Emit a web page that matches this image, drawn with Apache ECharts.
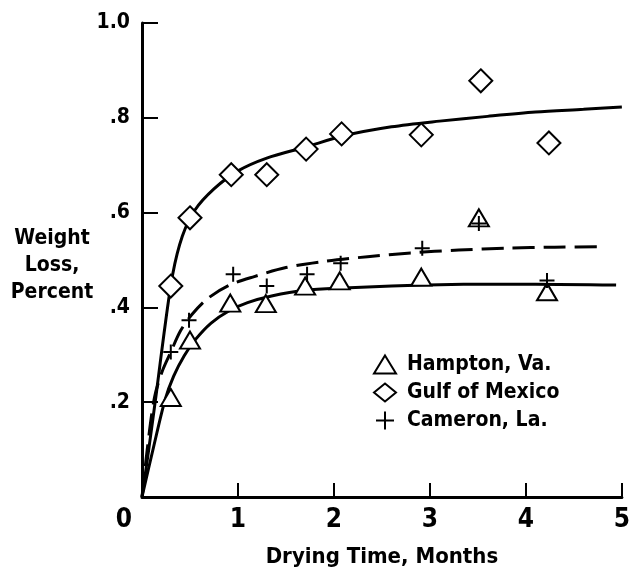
<!DOCTYPE html>
<html>
<head>
<meta charset="utf-8">
<script src="https://cdn.jsdelivr.net/npm/echarts@6/dist/echarts.min.js"></script>
<style>
  html, body { margin: 0; padding: 0; background: #fff; }
  #chart { width: 633px; height: 573px; }
</style>
</head>
<body>
<div id="chart"></div>
<script>
// measured points (drying time, months / weight loss, percent)
let hamptonX = [0.30, 0.50, 0.92, 1.29, 1.70, 2.06, 2.91, 3.51, 4.22];
let hamptonY = [0.21, 0.331, 0.409, 0.408, 0.445, 0.456, 0.464, 0.589, 0.433];
let gulfX = [0.30, 0.50, 0.93, 1.30, 1.71, 2.08, 2.91, 3.53, 4.24];
let gulfY = [0.445, 0.589, 0.68, 0.68, 0.734, 0.766, 0.764, 0.878, 0.747];
let cameronX = [0.30, 0.49, 0.95, 1.30, 1.72, 2.07, 2.92, 3.51, 4.22];
let cameronY = [0.306, 0.373, 0.47, 0.445, 0.47, 0.493, 0.525, 0.577, 0.457];

// fitted curves
let gulfCurveX = [0, 0.07, 0.15, 0.23, 0.32, 0.42, 0.55, 0.75, 1.00, 1.30, 1.70, 2.10, 2.60, 3.10, 3.60, 4.10, 4.60, 5.00];
let gulfCurveY = [0, 0.10, 0.22, 0.346, 0.47, 0.55, 0.605, 0.65, 0.688, 0.715, 0.738, 0.762, 0.781, 0.793, 0.803, 0.812, 0.818, 0.823];
let cameronCurveX = [0, 0.06, 0.13, 0.21, 0.30, 0.40, 0.52, 0.68, 0.90, 1.17, 1.50, 1.90, 2.35, 2.80, 3.30, 3.80, 4.30, 4.82];
let cameronCurveY = [0, 0.11, 0.21, 0.265, 0.306, 0.35, 0.385, 0.418, 0.446, 0.465, 0.484, 0.497, 0.507, 0.515, 0.521, 0.525, 0.527, 0.528];
let hamptonCurveX = [0, 0.12, 0.24, 0.33, 0.44, 0.56, 0.72, 0.90, 1.10, 1.35, 1.70, 2.10, 2.60, 3.10, 3.60, 4.10, 4.94];
let hamptonCurveY = [0, 0.105, 0.205, 0.255, 0.298, 0.333, 0.367, 0.392, 0.41, 0.424, 0.436, 0.441, 0.445, 0.448, 0.449, 0.449, 0.447];

let legendNames = ['Hampton, Va.', 'Gulf of Mexico', 'Cameron, La.'];

let font = 'DejaVu Sans Condensed';
let plusPath = 'path://M-1,0L1,0M0,-1L0,1';

function pairs(xs, ys) {
  return xs.map((x, i) => [x, ys[i]]);
}

function curve(xs, ys, dashed) {
  return {
    type: 'line',
    data: pairs(xs, ys),
    smooth: 0.3,
    showSymbol: false,
    silent: true,
    z: 2,
    lineStyle: { color: '#000', width: 3, type: dashed ? [22, 9] : 'solid' }
  };
}

function points(name, xs, ys, symbol, size, fill) {
  return {
    name: name,
    type: 'scatter',
    data: pairs(xs, ys),
    symbol: symbol,
    symbolSize: size,
    z: 5,
    itemStyle: { color: fill, borderColor: '#000', borderWidth: 2, opacity: 1 }
  };
}

let chart = echarts.init(document.getElementById('chart'));
let option = {
  animation: false,
  backgroundColor: '#fff',
  grid: { left: 142, right: 8, top: 23, bottom: 76 },
  xAxis: {
    type: 'value',
    min: 0,
    max: 5,
    interval: 1,
    name: 'Drying Time, Months',
    nameLocation: 'middle',
    nameGap: 49,
    nameTextStyle: { fontFamily: font, fontWeight: 'bold', fontSize: 22, color: '#000' },
    splitLine: { show: false },
    axisLine: { lineStyle: { color: '#000', width: 3 } },
    axisTick: { inside: true, length: 14, lineStyle: { color: '#000', width: 2 } },
    axisLabel: {
      margin: 10,
      fontFamily: font,
      fontWeight: 'bold',
      fontSize: 26,
      color: '#000',
      formatter: v => v === 0 ? '{z|0}' : String(v),
      rich: { z: { fontFamily: font, fontWeight: 'bold', fontSize: 26, color: '#000', padding: [0, 36, 0, 0] } }
    }
  },
  yAxis: {
    type: 'value',
    min: 0,
    max: 1,
    interval: 0.2,
    splitLine: { show: false },
    axisLine: { lineStyle: { color: '#000', width: 3 } },
    axisTick: { inside: true, length: 16, lineStyle: { color: '#000', width: 2 } },
    axisLabel: {
      margin: 12,
      fontFamily: font,
      fontWeight: 'bold',
      fontSize: 21,
      color: '#000',
      formatter: v => {
        if (v === 0) return '';
        if (v === 1) return '1.0';
        return v.toFixed(1).replace(/^0/, '');
      }
    }
  },
  legend: {
    data: legendNames,
    orient: 'vertical',
    left: 368,
    top: 349,
    itemWidth: 22,
    itemHeight: 18,
    itemGap: 7,
    textStyle: { fontFamily: font, fontWeight: 'bold', fontSize: 21, color: '#000', padding: [0, 0, 0, 6] }
  },
  graphic: [{
    type: 'text',
    x: 52,
    y: 266,
    style: {
      text: 'Weight\nLoss,\nPercent',
      fill: '#000',
      font: 'bold 21px "DejaVu Sans Condensed"',
      textAlign: 'center',
      textVerticalAlign: 'middle',
      lineHeight: 27
    }
  }],
  series: [
    curve(gulfCurveX, gulfCurveY, false),
    curve(cameronCurveX, cameronCurveY, true),
    curve(hamptonCurveX, hamptonCurveY, false),
    points(legendNames[0], hamptonX, hamptonY, 'triangle', [20, 17], '#fff'),
    points(legendNames[1], gulfX, gulfY, 'diamond', 23, '#fff'),
    points(legendNames[2], cameronX, cameronY, plusPath, 15, '#000')
  ]
};
chart.setOption(option);
</script>
</body>
</html>
